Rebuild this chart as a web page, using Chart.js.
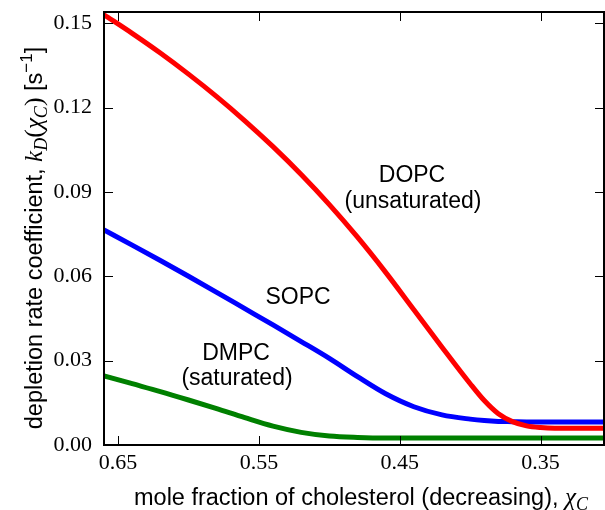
<!DOCTYPE html>
<html>
<head>
<meta charset="utf-8">
<script src="https://cdn.jsdelivr.net/npm/chart.js@4.4.1/dist/chart.umd.min.js"></script>
<style>
  html, body { margin: 0; padding: 0; background: #fff; }
  canvas { display: block; }
</style>
</head>
<body>
<canvas id="depletionChart" width="605" height="510"></canvas>
<script>
// Mole fraction of cholesterol (x axis, decreasing to the right)
const moleFraction = [0.66, 0.64, 0.62, 0.60, 0.58, 0.56, 0.54, 0.52, 0.50, 0.48, 0.46, 0.44, 0.42, 0.40, 0.39, 0.38, 0.37, 0.36, 0.35, 0.34, 0.32, 0.30];

// Depletion rate coefficient k_D [1/s] for each lipid
const dopcRate = [0.153, 0.1464, 0.1394, 0.1319, 0.1239, 0.1153, 0.1061, 0.0962, 0.0855, 0.0739, 0.0614, 0.0481, 0.0348, 0.0218, 0.0158, 0.0111, 0.0083, 0.0068, 0.0062, 0.006, 0.006, 0.006];
const sopcRate = [0.0765, 0.0711, 0.0656, 0.06, 0.0543, 0.0485, 0.0427, 0.0368, 0.0308, 0.0243, 0.0182, 0.0136, 0.0107, 0.0092, 0.0087, 0.0084, 0.0083, 0.0082, 0.0082, 0.0082, 0.0082, 0.0082];
const dmpcRate = [0.0246, 0.0218, 0.019, 0.016, 0.0129, 0.0097, 0.0067, 0.0045, 0.0032, 0.0027, 0.0025, 0.0025, 0.0025, 0.0025, 0.0025, 0.0025, 0.0025, 0.0025, 0.0025, 0.0025, 0.0025, 0.0025];

// Tick labels
const xTickValues = [0.65, 0.55, 0.45, 0.35];
const yTickValues = [0.0, 0.03, 0.06, 0.09, 0.12, 0.15];

const SANS = "'Liberation Sans', Arial, sans-serif";
const SERIF = "'Liberation Serif', 'Times New Roman', serif";

// Draw a line of text made of several font pieces (for the math bits)
const drawRich = (ctx, parts, cx, cy, angle) => {
  ctx.save();
  ctx.translate(cx, cy);
  ctx.rotate(angle);
  let total = 0;
  parts.forEach((p) => {
    ctx.font = p.font;
    total += ctx.measureText(p.text).width;
  });
  let x = -total / 2;
  ctx.fillStyle = "#000";
  ctx.textBaseline = "alphabetic";
  ctx.textAlign = "left";
  parts.forEach((p) => {
    ctx.font = p.font;
    ctx.fillText(p.text, x, p.dy || 0);
    x += ctx.measureText(p.text).width;
  });
  ctx.restore();
};

// Frame, inward ticks, axis titles and curve labels
const framePlugin = {
  id: "frame",
  afterDraw(chart) {
    const { ctx, chartArea: a, scales } = chart;
    ctx.save();
    ctx.strokeStyle = "#000";

    // inward tick marks on all four sides
    ctx.lineWidth = 1;
    ctx.beginPath();
    scales.x.ticks.forEach((t) => {
      const px = Math.round(scales.x.getPixelForValue(t.value)) + 0.5;
      ctx.moveTo(px, a.bottom);
      ctx.lineTo(px, a.bottom - 9);
      ctx.moveTo(px, a.top);
      ctx.lineTo(px, a.top + 9);
    });
    scales.y.ticks.forEach((t) => {
      const py = Math.round(scales.y.getPixelForValue(t.value)) + 0.5;
      ctx.moveTo(a.left, py);
      ctx.lineTo(a.left + 9, py);
      ctx.moveTo(a.right, py);
      ctx.lineTo(a.right - 9, py);
    });
    ctx.stroke();

    // box
    ctx.lineWidth = 2;
    ctx.strokeRect(a.left, a.top, a.right - a.left, a.bottom - a.top);
    ctx.restore();

    const sans = `23.5px ${SANS}`;
    const small = `17px ${SANS}`;
    const it = `italic 25px ${SERIF}`;
    const subIt = `italic 18px ${SERIF}`;
    const serif = `26px ${SERIF}`;

    // x axis title
    drawRich(ctx, [
      { text: "mole fraction of cholesterol (decreasing), ", font: sans },
      { text: "χ", font: it },
      { text: "C", font: subIt, dy: 5 },
    ], 361, 505, 0);

    // y axis title
    drawRich(ctx, [
      { text: "depletion rate coefficient, ", font: sans },
      { text: "k", font: it },
      { text: "D", font: subIt, dy: 5 },
      { text: "(", font: serif },
      { text: "χ", font: it },
      { text: "C", font: subIt, dy: 5 },
      { text: ")", font: serif },
      { text: " [s", font: sans },
      { text: "−1", font: small, dy: -10 },
      { text: "]", font: sans },
    ], 42, 238, -Math.PI / 2);

    // curve labels
    ctx.save();
    ctx.fillStyle = "#000";
    ctx.font = `23px ${SANS}`;
    ctx.textAlign = "center";
    ctx.textBaseline = "middle";
    ctx.fillText("DOPC", 412, 176);
    ctx.fillText("(unsaturated)", 413, 202);
    ctx.fillText("SOPC", 298, 298);
    ctx.fillText("DMPC", 236, 354);
    ctx.fillText("(saturated)", 237, 379);
    ctx.restore();
  },
};

const toPoints = (ys) => moleFraction.map((x, i) => ({ x: x, y: ys[i] }));

const makeSeries = (label, values, color) => ({
  label: label,
  data: toPoints(values),
  borderColor: color,
  backgroundColor: color,
  borderWidth: 5,
  pointRadius: 0,
  cubicInterpolationMode: "monotone",
  fill: false,
});

const createChart = () => {
  const ctx = document.getElementById("depletionChart").getContext("2d");
  new Chart(ctx, {
    type: "line",
    data: {
      datasets: [
        makeSeries("DOPC", dopcRate, "#ff0000"),
        makeSeries("SOPC", sopcRate, "#0000ff"),
        makeSeries("DMPC", dmpcRate, "#008000"),
      ],
    },
    options: {
      responsive: false,
      animation: false,
      layout: { padding: { top: 12, right: 1, left: 0, bottom: 0 } },
      plugins: {
        legend: { display: false },
        tooltip: { enabled: false },
      },
      scales: {
        x: {
          type: "linear",
          reverse: true,
          min: 0.305,
          max: 0.66,
          afterBuildTicks: (s) => {
            s.ticks = xTickValues.map((v) => ({ value: v }));
          },
          afterFit: (s) => {
            s.height = 65;
            s.paddingLeft = 0;
            s.paddingRight = 0;
          },
          grid: { display: false, drawTicks: false },
          border: { display: false },
          ticks: {
            padding: 5,
            color: "#000",
            font: { family: SERIF, size: 22 },
            maxRotation: 0,
            callback: (v) => Number(v).toFixed(2),
          },
        },
        y: {
          min: 0,
          max: 0.154,
          afterBuildTicks: (s) => {
            s.ticks = yTickValues.map((v) => ({ value: v }));
          },
          afterFit: (s) => {
            s.width = 104;
            s.paddingTop = 0;
            s.paddingBottom = 0;
          },
          grid: { display: false, drawTicks: false },
          border: { display: false },
          ticks: {
            padding: 12,
            color: "#000",
            font: { family: SERIF, size: 22 },
            callback: (v) => Number(v).toFixed(2),
          },
        },
      },
    },
    plugins: [framePlugin],
  });
};

document.addEventListener("DOMContentLoaded", () => {
  createChart();
});
</script>
</body>
</html>
